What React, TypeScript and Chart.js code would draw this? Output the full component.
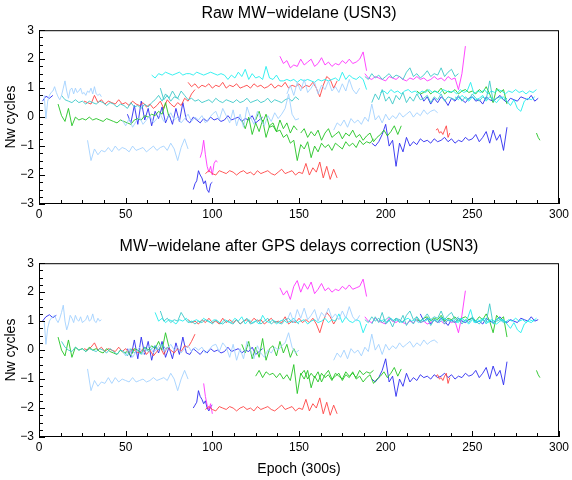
import React, { useEffect, useRef } from "react";
import { Chart, registerables } from "chart.js";

Chart.register(...registerables);

// ---------- labels ----------
const TOP_TITLE = "Raw MW\u2212widelane (USN3)";
const BOTTOM_TITLE = "MW\u2212widelane after GPS delays correction (USN3)";
const Y_TITLE = "Nw cycles";
const X_TITLE = "Epoch (300s)";
const X_MIN = 0;
const X_MAX = 300;
const X_STEP = 50;
const Y_MIN = -3;
const Y_MAX = 3;

// ---------- colours ----------
const LB = "#a3d1ff";
const CY = "#22eeee";
const TQ = "#3cc8c8";
const RD = "#ff4444";
const GR = "#22c422";
const BL = "#2b2bf0";
const MG = "#ff33ff";

// ---------- RAW (top) series values ----------
const rBl1 = [0.55, 0.72, 0.65, 0.75];
const rLb1 = [0.75, -0.05, 0.55, 0.75, 0.85, 0.9, 1.05, 0.85, 0.7, 0.6, 0.75, 1.0, 1.25, 0.9, 0.65, 0.95, 1.0, 0.8, 1.0, 0.85, 0.9, 1.0, 0.8, 0.85, 0.75, 0.9, 0.85, 1.0, 0.8, 1.05, 0.8, 0.75, 0.8, 0.7];
const rTq1 = [0.75, 0.6, 0.55, 0.5, 0.6, 0.5, 0.55, 0.45, 0.55, 0.5, 0.45, 0.55, 0.5, 0.4, 0.5, 0.45, 0.35, 0.45, 0.4, 0.3, 0.5, 0.35, 0.4, 0.3, 0.45, 0.35, 0.5, 0.6, 0.75, 0.55, 0.8, 0.65, 0.9, 0.7, 0.6];
const rGr1 = [0.45, 0.05, -0.15, 0.3, -0.3, 0.0, -0.1, -0.05, -0.1, 0.0, -0.1, -0.05, -0.1, -0.15, -0.05, -0.1, -0.15, -0.2, -0.1, -0.15, -0.2, -0.25, -0.1, -0.05, -0.1, 0.05, 0.0, 0.1, 0.05, 0.2, 0.1, 0.5, 0.0];
const rRd1 = [0.55, 0.5, 0.45, 0.75, 0.5, 0.6, 0.45, 0.55, 0.5, 0.45, 0.6, 0.45, 0.5, 0.4, 0.55, 0.45, 0.4, 0.5, 0.35, 0.45, 0.3, 0.4, 0.55, 0.3, 0.6, 0.45, 0.35, 0.5, 0.4, 0.65, 0.55, 0.8, 0.95];
const rBl2 = [0.1, -0.2, 0.4, -0.25, 0.55, -0.1, 0.3, -0.3, 0.2, -0.05, 0.35, -0.2, 0.1, -0.25, 0.3, -0.15, 0.5, -0.1, -0.2, 0.0, -0.1, -0.2, -0.05, -0.15, 0.0, -0.1, -0.05, -0.15, -0.1, 0.05, -0.1, -0.05, 0.0, -0.15, -0.05, -0.1, 0.05, -0.2, -0.1, 0.0];
const rLb3 = [-0.1, -0.3, -0.05, -0.35, -0.15, 0.0, -0.25, -0.1, 0.05, -0.2, -0.05, 0.1, -0.15, -0.05, 0.15, -0.1, 0.0, -0.2, -0.05, 0.1, -0.15, 0.0, -0.1, 0.05, -0.2, -0.05, 0.1, 0.2, -0.1, 0.3, 0.05, -0.2, 0.25, -0.3, 0.1, -0.35, 0.35, 0.0, -0.25, 0.2, -0.1, -0.3, 0.05, -0.15, 0.15, -0.05, 0.1, 0.3, 0.8, 0.1, -0.1, -0.05];
const rLb2 = [-0.8, -1.5, -1.1, -1.3, -1.15, -1.2, -1.05, -1.2, -1.0, -1.15, -1.05, -1.1, -1.2, -1.0, -1.15, -1.1, -1.05, -1.2, -1.1, -1.0, -1.15, -1.05, -1.0, -1.15, -0.9, -1.1, -1.5, -1.05, -0.75, -1.1];
const rMg1 = [-1.4, -1.2, -0.8, -1.3, -1.7, -1.9, -1.7, -2.0, -1.6, -1.5, -1.55];
const rBl3 = [-2.5, -2.3, -2.2, -1.85, -2.0, -2.1, -2.3, -2.2, -2.5, -2.6, -2.3, -2.25];
const rRd3 = [-1.95, -1.85, -1.95, -2.0, -1.85, -1.9, -1.95, -1.85, -1.9, -2.0, -1.9, -1.85, -1.95, -1.9, -2.0, -1.85, -1.95, -1.9, -1.85, -1.95, -2.0, -1.9, -1.8, -1.95, -1.9, -1.85, -2.0, -1.9, -1.95, -1.6, -2.0, -1.75, -1.9, -1.55, -2.1, -1.7, -2.15, -1.8, -2.1];
const rCy1 = [1.45, 1.35, 1.5, 1.45, 1.55, 1.5, 1.45, 1.5, 1.55, 1.45, 1.5, 1.5, 1.45, 1.55, 1.5, 1.45, 1.5, 1.55, 1.5, 1.45, 1.5, 1.45, 1.3, 1.45, 1.35, 1.55, 1.4, 1.65, 1.3, 1.5, 1.35, 1.4, 1.3, 1.75, 1.35, 1.3, 1.45, 1.25, 1.25, 1.3, 1.25, 1.3, 1.2, 1.3, 1.25, 1.3, 1.25, 1.2, 1.3, 1.25, 1.3, 1.25, 1.3, 1.35, 1.25, 1.55, 1.3, 1.45, 1.35, 1.3, 1.4, 1.3, 0.95];
const rTq2 = [1.0, 0.6, 0.75, 0.55, 0.7, 0.65, 0.9, 0.75, 0.6, 0.65, 0.55, 0.6, 0.5, 0.55, 0.6, 0.5, 0.65, 0.55, 0.5, 0.6, 0.55, 0.5, 0.6, 0.5, 0.55, 0.65, 0.5, 0.55, 0.6, 0.5, 0.55, 0.65, 0.5, 0.6, 0.55, 0.5, 0.6, 0.65, 0.55, 0.7, 0.6];
const rRd2 = [1.2, 1.05, 1.15, 1.0, 1.1, 1.05, 1.15, 1.0, 1.1, 1.05, 1.2, 1.0, 1.1, 1.05, 1.15, 1.0, 1.05, 1.1, 1.0, 1.15, 1.05, 1.1, 1.0, 1.05, 1.15, 1.0, 1.1, 1.05, 1.2, 1.0, 1.1, 1.05, 1.15, 1.0, 1.1, 1.05, 1.2, 1.0, 0.7, 1.1, 1.4, 1.3, 1.0, 1.25];
const rMg2 = [2.1, 1.85, 1.95, 1.7, 1.8, 1.75, 2.0, 1.8, 1.9, 2.0, 1.75, 1.85, 2.05, 1.8, 1.9, 1.75, 1.85, 1.8, 1.95, 1.85, 2.0, 1.85, 1.9, 2.0, 2.25, 1.6];
const rMg3 = [1.5, 1.35, 1.3, 1.4, 1.35, 1.3, 1.25, 1.4, 1.35, 1.3, 1.4, 1.3, 1.25, 1.35, 1.3, 1.4, 1.3, 1.35, 1.25, 1.3, 1.4, 1.3, 1.35, 1.25, 1.4, 1.3, 1.35, 0.95, 1.5, 2.45];
const rTq3 = [1.4, 1.3, 1.5, 1.35, 1.45, 1.3, 1.4, 1.5, 1.35, 1.45, 1.4, 1.3, 1.55, 1.7, 1.4, 1.5, 1.35, 1.45, 1.6, 1.4, 1.5, 1.45, 1.7, 1.4, 1.55, 1.65, 1.4, 1.5];
const rLb4 = [0.8, 1.1, 0.75, 1.2, 0.9, 1.3, 0.85, 1.0, 1.2, 0.8, 1.1, 0.95, 1.25, 0.9, 1.05, 0.85, 1.15, 0.9, 1.3, 0.95, 0.8, 1.0];
const rLb5 = [-0.45, -0.2, -0.3, -0.1, -0.35, -0.05, -0.2, -0.1, -0.25, 0.0, -0.15, 0.45, -0.1, 0.05, -0.2, 0.1, -0.1, 0.05, -0.05, 0.15, 0.0, 0.1, 0.2, 0.0, 0.15, 0.05, 0.25, 0.1, 0.2, 0.25, 0.15];
const rGr2 = [-0.1, -0.4, 0.0, -0.6, -0.2, -0.5, -0.1, -0.7, -0.3, -0.2, -0.5, -0.1, -0.4, -0.2, -0.55, -0.3, -0.45];
const rGr3 = [-0.1, 0.2, -0.2, 0.1, -0.35, -0.3, -0.5, -0.45, -0.7, -0.6, -0.9, -0.8, -1.5, -0.95, -1.1, -0.85, -1.4, -1.0, -1.2, -0.9, -1.05, -0.95, -1.15, -0.9, -1.0, -1.1, -0.85, -1.0, -0.9, -1.05, -0.8, -0.95, -0.85, -0.9, -0.75];
const rGr4 = [-0.55, -0.4, -0.7, -0.5, -0.65, -0.45, -0.8, -0.55, -0.4, -0.7, -0.6, -0.5, -0.75, -0.55, -0.65, -0.45, -0.7, -0.6, -0.8, -0.65, -0.55, -0.85, -0.7, -0.6, -0.45, -0.65, -0.5, -0.3, -0.6, -0.3];
const rGr5 = [0.9, 0.8, 0.85, 0.95, 0.8, 0.9, 0.85, 1.0, 0.8, 0.9, 0.85, 0.95, 0.8, 0.9, 0.95, 0.85, 0.9, 0.8, 0.95, 0.85, 1.05, 0.8, 0.5, 1.0, 0.85, 0.95, 0.45];
const rGr6 = [-0.55, -0.7, -0.8];
const rBl4 = [-0.9, -1.0, -0.85, -0.6, -0.25, -1.0, -0.8, -1.7, -0.9, -1.2, -0.7, -1.0, -0.85, -0.95, -0.75, -0.85, -0.8, -0.9, -0.75, -0.85, -0.8, -0.7, -0.85, -0.75, -0.9, -0.8, -0.85, -0.7, -0.8, -0.75, -0.6, -0.85, -0.7, -0.5, -0.9, -0.45, -0.8, -0.6, -1.15, -0.35];
const rBl5 = [0.8, 0.55, 0.7, 0.45, 0.65, 0.5, 0.7, 0.6, 0.4, 0.65, 0.55, 0.7, 0.6, 0.5, 0.65, 0.7, 0.55, 0.6, 0.45, 0.7, 0.6, 0.55, 0.65, 0.75, 0.6, 0.5, 0.65, 0.6, 0.55, 0.7, 0.65, 0.6, 0.75, 0.55, 0.65];
const rTq4 = [0.5, 0.8, 0.6, 0.95, 0.55, 0.7, 0.45, 0.75, 0.6, 0.85, 0.5, 0.7, 0.55, 0.8, 0.6, 0.65, 0.75, 0.5, 0.7, 0.6, 0.8, 0.55, 0.7, 0.65, 0.6, 0.75, 0.55, 0.7, 0.6, 0.8, 0.65, 0.55, 0.7, 0.6, 1.25, 0.55, 0.65, 0.7, 0.6, 0.65];
const rCy2 = [0.85, 0.9, 0.8, 0.95, 0.85, 0.9, 0.8, 0.9, 0.95, 0.85, 0.9, 0.8, 0.9, 0.85, 0.95, 0.85, 0.9, 0.8, 0.95, 0.9, 0.85, 0.9, 0.8, 0.95, 0.85, 0.9, 1.2, 0.8, 0.9, 0.85, 0.95, 0.8, 0.9, 0.85, 0.95, 0.9, 0.8, 0.9, 0.85, 0.95, 0.85, 0.9, 0.8, 0.9, 0.85, 0.95];
const rCy3 = [0.7, 0.6, 0.75, 0.65, 0.55, 0.7, 0.6, 0.65, 0.75, 0.55, 0.7, 0.6, 0.5, 0.65, 0.7, 0.55, 0.4, 0.6, 0.3, 0.2, 0.55, 0.65, 0.6, 0.7];
const rRd4 = [-0.45, -0.4, -0.55, -0.5, -0.6, -0.45, -0.3, -0.7, -0.55];

// ---------- CORRECTED (bottom) series values ----------
const cBl1 = [1.0, 1.15, 1.22, 1.12, 1.2];
const cLb1 = [1.0, 0.2, 0.75, 1.0, 1.1, 1.15, 1.2, 1.05, 0.95, 1.1, 1.3, 1.55, 1.0, 0.7, 0.9, 1.2, 1.1, 0.95, 1.2, 1.05, 1.0, 1.15, 0.95, 1.0, 1.05, 1.2, 1.0, 1.05, 1.25, 1.0, 0.95, 1.1, 1.0, 1.05];
const cTq1 = [0.3, 0.1, 0.0, -0.05, 0.1, 0.0, 0.05, -0.05, 0.05, 0.0, -0.05, 0.05, 0.0, -0.1, 0.05, -0.05, -0.15, 0.0, -0.05, -0.2, 0.05, -0.1, 0.0, -0.15, 0.1, -0.05, 0.05, 0.15, 0.0, 0.2, 0.05, 0.1];
const cGr1 = [0.45, 0.0, -0.2, 0.35, -0.25, 0.1, 0.0, 0.05, -0.05, 0.1, 0.0, 0.05, -0.05, -0.1, 0.05, -0.05, -0.1, -0.15, 0.0, -0.1, -0.05, -0.2, 0.05, 0.0, -0.1, 0.1, 0.0, 0.15, 0.05, 0.3, 0.0, 0.6, 0.1];
const cRd1 = [0.05, 0.0, 0.1, 0.25, 0.0, 0.1, -0.05, 0.05, 0.0, -0.05, 0.1, -0.05, 0.05, -0.1, 0.05, -0.05, -0.1, 0.05, -0.15, 0.0, -0.2, -0.05, 0.1, -0.15, 0.1, 0.0, -0.1, 0.05, -0.05, 0.15, 0.1, 0.3, 0.55];
const cBl2 = [0.05, -0.25, 0.35, -0.3, 0.45, -0.15, 0.3, -0.35, 0.15, -0.1, 0.3, -0.25, 0.1, -0.3, 0.25, -0.15, 0.45, -0.1, -0.15, 0.05, -0.05, -0.15, 0.0, -0.1, 0.05, -0.05, 0.0, -0.1, -0.05, 0.1, -0.05, 0.0, 0.05, -0.1, 0.0, -0.05, 0.1, -0.15, -0.05, 0.05];
const cLb3 = [0.0, -0.2, 0.05, -0.25, -0.05, 0.1, -0.15, 0.0, 0.15, -0.1, 0.05, 0.2, -0.05, 0.05, 0.2, 0.0, 0.1, -0.1, 0.05, 0.15, -0.05, 0.1, 0.0, 0.1, -0.1, 0.0, 0.15, 0.2, -0.05, 0.25, 0.1, -0.25, 0.2, -0.35, 0.05, -0.3, 0.3, 0.0, -0.3, 0.15, -0.1, -0.25, 0.0, -0.1, 0.1, 0.0, 0.15, 0.25, 0.6, 0.1, -0.1, 0.0];
const cLb2 = [-0.65, -1.4, -1.05, -1.25, -1.1, -1.15, -0.95, -1.15, -0.95, -1.1, -1.0, -1.05, -1.1, -0.95, -1.1, -1.05, -1.0, -1.1, -1.05, -0.95, -1.05, -1.0, -0.95, -1.05, -0.8, -1.0, -1.4, -1.0, -0.7, -1.0];
const cMg1 = [-1.15, -1.6, -1.9, -2.05, -1.85, -2.2];
const cBl3 = [-2.0, -1.9, -1.8, -1.4, -1.6, -1.7, -1.85, -1.75, -2.0, -2.1, -1.95, -1.9];
const cRd3 = [-2.05, -1.95, -2.05, -2.1, -1.95, -2.0, -2.05, -1.95, -2.0, -2.1, -2.0, -1.95, -2.05, -2.0, -2.1, -1.95, -2.05, -2.0, -1.95, -2.05, -2.1, -2.0, -1.9, -2.05, -2.0, -1.95, -2.1, -2.0, -2.05, -1.7, -2.1, -1.85, -2.0, -1.65, -2.2, -1.8, -2.25, -1.9, -2.2];
const cCy1 = [1.3, 1.0, 1.1, 0.95, 1.05, 1.0, 0.9, 1.05, 1.0, 1.1, 0.95, 1.0, 1.05, 0.95, 1.1, 1.0, 0.95, 1.05, 1.0, 0.9, 1.05, 1.0, 0.95, 1.1, 1.0, 1.15, 0.9, 1.05, 0.95, 1.0, 0.9, 1.2, 1.0, 0.95, 1.05, 0.9, 1.0, 1.05, 0.95, 1.0, 1.1, 0.95, 1.0, 1.05, 0.9, 1.0, 1.05, 0.95, 1.0, 1.1, 0.95, 1.05, 1.0, 1.25, 0.95, 1.15, 1.0, 0.95, 1.05, 1.0, 0.6, 0.9];
const cTq2 = [1.35, 1.0, 1.1, 0.95, 1.05, 1.0, 1.3, 1.1, 0.95, 1.0, 0.9, 1.0, 0.95, 1.05, 1.0, 0.9, 1.05, 0.95, 0.9, 1.0, 0.95, 0.9, 1.05, 0.9, 1.0, 1.1, 0.9, 0.95, 1.05, 0.9, 1.0, 1.1, 0.9, 1.0, 0.95, 0.9, 1.05, 1.1, 0.95, 1.0, 0.9];
const cRd2 = [1.05, 0.95, 1.0, 0.9, 1.05, 0.95, 1.1, 0.95, 1.0, 0.9, 1.1, 0.95, 1.05, 0.95, 1.05, 0.9, 1.0, 1.05, 0.95, 1.1, 1.0, 1.05, 0.9, 1.0, 1.1, 0.95, 1.0, 0.95, 1.15, 0.9, 1.0, 0.95, 1.1, 0.95, 1.05, 0.95, 1.1, 0.9, 0.6, 1.0, 1.3, 1.15, 0.9, 1.1];
const cMg2 = [2.15, 1.9, 2.05, 1.75, 2.2, 2.4, 2.0, 2.3, 2.1, 2.35, 1.95, 2.1, 2.3, 2.05, 2.15, 2.0, 2.1, 2.05, 2.2, 2.1, 2.25, 2.1, 2.15, 2.2, 2.45, 1.85];
const cMg3 = [1.15, 1.0, 0.95, 1.1, 1.0, 0.95, 0.9, 1.1, 1.0, 0.95, 1.05, 0.95, 0.9, 1.0, 0.95, 1.05, 0.95, 1.0, 0.9, 0.95, 1.05, 0.95, 1.0, 0.9, 1.05, 0.95, 1.0, 0.6, 1.2, 2.05];
const cTq3 = [1.05, 0.95, 1.15, 1.0, 1.1, 0.95, 1.05, 1.15, 1.0, 1.1, 1.05, 0.95, 1.2, 1.35, 1.05, 1.15, 1.0, 1.1, 1.25, 1.05, 1.15, 1.1, 1.35, 1.05, 1.2, 1.3, 1.05, 1.15];
const cLb4 = [1.0, 1.3, 0.95, 1.4, 1.1, 1.45, 1.05, 1.2, 1.4, 1.0, 1.3, 1.15, 1.45, 1.1, 1.25, 1.05, 1.35, 1.1, 1.5, 1.15, 1.0, 1.2];
const cLb5 = [-0.35, -0.1, -0.25, 0.0, -0.3, 0.05, -0.1, 0.0, -0.2, 0.1, -0.05, 0.55, 0.0, 0.2, -0.15, 0.2, 0.0, 0.15, 0.05, 0.25, 0.1, 0.2, 0.3, 0.1, 0.25, 0.15, 0.35, 0.2, 0.3, 0.35, 0.25];
const cGr2 = [0.2, -0.1, 0.3, -0.3, 0.1, -0.25, 0.4, -0.35, 0.05, 0.15, -0.2, 0.3, -0.1, 0.2, -0.25, 0.05, -0.2];
const cGr3 = [-0.9, -0.7, -0.95, -0.75, -0.85, -0.8, -0.95, -0.8, -1.0, -0.85, -1.05, -0.5, -1.5, -0.8, -1.0, -0.7, -1.3, -0.9, -1.1, -0.8, -0.95, -0.85, -1.05, -0.8, -0.9, -1.0, -0.75, -0.9, -0.8, -0.95, -0.7, -0.85, -0.75, -0.8, -0.7];
const cGr4 = [-0.85, -0.7, -1.0, -0.8, -0.95, -0.75, -1.1, -0.85, -0.7, -1.0, -0.9, -0.8, -1.05, -0.85, -0.95, -0.75, -1.0, -0.9, -1.1, -0.95, -0.85, -1.15, -1.0, -0.9, -0.75, -0.95, -0.8, -0.6, -0.9, -0.65];
const cGr5 = [1.05, 1.0, 1.1, 1.15, 1.0, 1.1, 1.05, 1.2, 1.0, 1.1, 1.05, 1.15, 1.0, 1.1, 1.15, 1.05, 1.1, 1.0, 1.15, 1.05, 1.25, 1.0, 0.6, 1.2, 1.05, 1.15, 0.45];
const cGr6 = [-0.7, -0.85, -0.95];
const cBl4 = [-1.0, -1.1, -0.95, -0.7, -0.3, -1.1, -0.9, -1.6, -1.0, -1.25, -0.8, -1.1, -0.95, -1.05, -0.85, -0.95, -0.9, -1.0, -0.85, -0.95, -0.9, -0.8, -0.95, -0.85, -1.0, -0.9, -0.95, -0.8, -0.9, -0.85, -0.7, -0.95, -0.8, -0.6, -1.0, -0.55, -0.9, -0.7, -1.2, -0.4];
const cBl5 = [1.25, 1.0, 1.1, 0.9, 1.05, 0.95, 1.1, 1.0, 0.85, 1.05, 0.95, 1.1, 1.0, 0.95, 1.05, 1.1, 0.95, 1.0, 0.9, 1.1, 1.0, 0.95, 1.05, 1.15, 1.0, 0.95, 1.05, 1.0, 0.95, 1.1, 1.05, 1.0, 1.15, 1.0, 1.05];
const cTq4 = [0.9, 1.15, 0.95, 1.3, 0.9, 1.05, 0.8, 1.1, 0.95, 1.2, 0.85, 1.05, 0.9, 1.15, 0.95, 1.0, 1.1, 0.85, 1.05, 0.95, 1.15, 0.9, 1.05, 1.0, 0.95, 1.1, 0.9, 1.05, 0.95, 1.15, 1.0, 0.9, 1.05, 0.95, 1.6, 0.9, 1.0, 1.05, 0.95, 1.0];
const cCy2 = [1.0, 1.05, 0.95, 1.1, 1.0, 1.05, 0.95, 1.05, 1.1, 1.0, 1.05, 0.95, 1.05, 1.0, 1.1, 1.0, 1.05, 0.95, 1.1, 1.05, 1.0, 1.05, 0.95, 1.1, 1.0, 1.05, 1.4, 0.95, 1.05, 1.0, 1.1, 0.95, 1.05, 1.0, 1.1, 1.05, 0.95, 1.05, 1.0, 1.1, 1.0, 1.05, 0.95, 1.05, 1.0, 1.1];
const cCy3 = [1.0, 0.95, 1.1, 1.0, 0.9, 1.05, 0.95, 1.0, 1.1, 0.9, 1.05, 0.95, 0.9, 1.0, 1.05, 0.9, 0.75, 0.95, 0.7, 0.6, 0.9, 1.0, 0.95, 1.05];
const cRd4 = [-0.9, -0.85, -1.0, -0.95, -1.05, -0.9, -0.8, -1.15, -0.95];

// ---------- segment tables: [colour, first epoch, epoch step, values] ----------
type Seg = [string, number, number, number[]];

const RAW_SEGMENTS: Seg[] = [
  [LB, 3, 1, rLb1], [LB, 28, 2, rLb2], [LB, 48, 2, rLb3], [LB, 143, 2, rLb4], [LB, 170, 2, rLb5],
  [TQ, 13, 2, rTq1], [TQ, 70, 2, rTq2], [TQ, 188, 2, rTq3], [TQ, 192, 2, rTq4],
  [CY, 65, 2, rCy1], [CY, 197, 2, rCy2], [CY, 240, 2, rCy3],
  [GR, 11, 2, rGr1], [GR, 117, 2, rGr2], [GR, 125, 2, rGr3], [GR, 151, 2, rGr4], [GR, 218, 2, rGr5], [GR, 287, 1, rGr6],
  [RD, 26, 2, rRd1], [RD, 86, 2, rRd2], [RD, 96, 2, rRd3], [RD, 229, 1, rRd4],
  [MG, 93, 1, rMg1], [MG, 139, 2, rMg2], [MG, 188, 2, rMg3],
  [BL, 2, 2, rBl1], [BL, 51, 2, rBl2], [BL, 89, 1, rBl3], [BL, 192, 2, rBl4], [BL, 220, 2, rBl5],
];

const CORR_SEGMENTS: Seg[] = [
  [LB, 3, 1, cLb1], [LB, 28, 2, cLb2], [LB, 48, 2, cLb3], [LB, 143, 2, cLb4], [LB, 170, 2, cLb5],
  [TQ, 13, 2, cTq1], [TQ, 70, 2, cTq2], [TQ, 188, 2, cTq3], [TQ, 192, 2, cTq4],
  [CY, 67, 2, cCy1], [CY, 197, 2, cCy2], [CY, 240, 2, cCy3],
  [GR, 11, 2, cGr1], [GR, 117, 2, cGr2], [GR, 125, 2, cGr3], [GR, 151, 2, cGr4], [GR, 218, 2, cGr5], [GR, 287, 1, cGr6],
  [RD, 26, 2, cRd1], [RD, 86, 2, cRd2], [RD, 96, 2, cRd3], [RD, 229, 1, cRd4],
  [MG, 95, 1, cMg1], [MG, 139, 2, cMg2], [MG, 188, 2, cMg3],
  [BL, 2, 2, cBl1], [BL, 51, 2, cBl2], [BL, 89, 1, cBl3], [BL, 192, 2, cBl4], [BL, 220, 2, cBl5],
];

const FONT = "'Liberation Sans', Arial, Helvetica, sans-serif";

function toDatasets(segs: Seg[]) {
  return segs.map(([color, start, step, vals]) => ({
    data: vals.map((v, i) => ({ x: start + i * step, y: v })),
    borderColor: color,
    backgroundColor: color,
    borderWidth: 0.9,
    pointRadius: 0,
    fill: false,
    tension: 0,
  }));
}

const framePlugin = {
  id: "frame",
  afterDatasetsDraw(chart: any) {
    const { ctx, chartArea: a, scales } = chart;
    ctx.save();
    ctx.strokeStyle = "#000";
    ctx.lineWidth = 1;
    ctx.strokeRect(a.left + 0.5, a.top + 0.5, a.right - a.left - 1, a.bottom - a.top - 1);
    ctx.beginPath();
    for (let v = X_MIN; v <= X_MAX; v += 12.5) {
      const px = Math.round(scales.x.getPixelForValue(v)) + 0.5;
      const len = v % 50 === 0 ? 6 : 4;
      ctx.moveTo(px, a.bottom);
      ctx.lineTo(px, a.bottom - len);
    }
    for (let v = Y_MIN; v <= Y_MAX + 1e-9; v += 0.25) {
      const py = Math.round(scales.y.getPixelForValue(v)) + 0.5;
      const len = Math.abs(v - Math.round(v)) < 1e-9 ? 6 : 4;
      ctx.moveTo(a.left, py);
      ctx.lineTo(a.left + len, py);
    }
    ctx.stroke();
    ctx.restore();
  },
};

function makeConfig(segs: Seg[], title: string, titlePad: { top: number; bottom: number }, xAxisHeight: number, showXTitle: boolean) {
  return {
    type: "line" as const,
    data: { datasets: toDatasets(segs) },
    options: {
      animation: false,
      responsive: false,
      maintainAspectRatio: false,
      layout: { padding: { left: 0, right: 8, top: 0, bottom: 0 }, autoPadding: false },
      plugins: {
        legend: { display: false },
        tooltip: { enabled: false },
        title: {
          display: true,
          text: title,
          fullSize: false,
          color: "#000",
          font: { family: FONT, size: 16, weight: "normal" },
          padding: titlePad,
        },
      },
      scales: {
        x: {
          type: "linear",
          min: X_MIN,
          max: X_MAX,
          grid: { display: false, drawTicks: false },
          border: { display: false },
          ticks: { stepSize: X_STEP, color: "#000", font: { family: FONT, size: 12 }, padding: 3, maxRotation: 0 },
          title: {
            display: showXTitle,
            text: X_TITLE,
            color: "#000",
            font: { family: FONT, size: 14 },
            padding: { top: 0, bottom: 2 },
          },
          afterFit: (s: any) => { s.height = xAxisHeight; },
        },
        y: {
          min: Y_MIN,
          max: Y_MAX,
          grid: { display: false, drawTicks: false },
          border: { display: false },
          ticks: {
            stepSize: 1,
            color: "#000",
            font: { family: FONT, size: 12 },
            padding: 5,
            callback: (v: any) => (v < 0 ? "\u2212" + Math.abs(v) : String(v)),
          },
          title: {
            display: true,
            text: Y_TITLE,
            color: "#000",
            font: { family: FONT, size: 14 },
            padding: { top: 3, bottom: 0 },
          },
          afterFit: (s: any) => { s.width = 39; },
        },
      },
    },
    plugins: [framePlugin],
  };
}

export default function App() {
  const topRef = useRef<HTMLCanvasElement>(null);
  const botRef = useRef<HTMLCanvasElement>(null);

  useEffect(() => {
    const c1 = new Chart(topRef.current as any, makeConfig(RAW_SEGMENTS, TOP_TITLE, { top: 4, bottom: 7 }, 36, false) as any);
    const c2 = new Chart(botRef.current as any, makeConfig(CORR_SEGMENTS, BOTTOM_TITLE, { top: 7, bottom: 7 }, 43, true) as any);
    return () => {
      c1.destroy();
      c2.destroy();
    };
  }, []);

  return (
    <div style={{ position: "absolute", left: 0, top: 0, width: 572, height: 480, background: "#fff" }}>
      <canvas ref={topRef} width={572} height={240} style={{ position: "absolute", left: 0, top: 0, width: 572, height: 240 }} />
      <canvas ref={botRef} width={572} height={250} style={{ position: "absolute", left: 0, top: 230, width: 572, height: 250 }} />
    </div>
  );
}
